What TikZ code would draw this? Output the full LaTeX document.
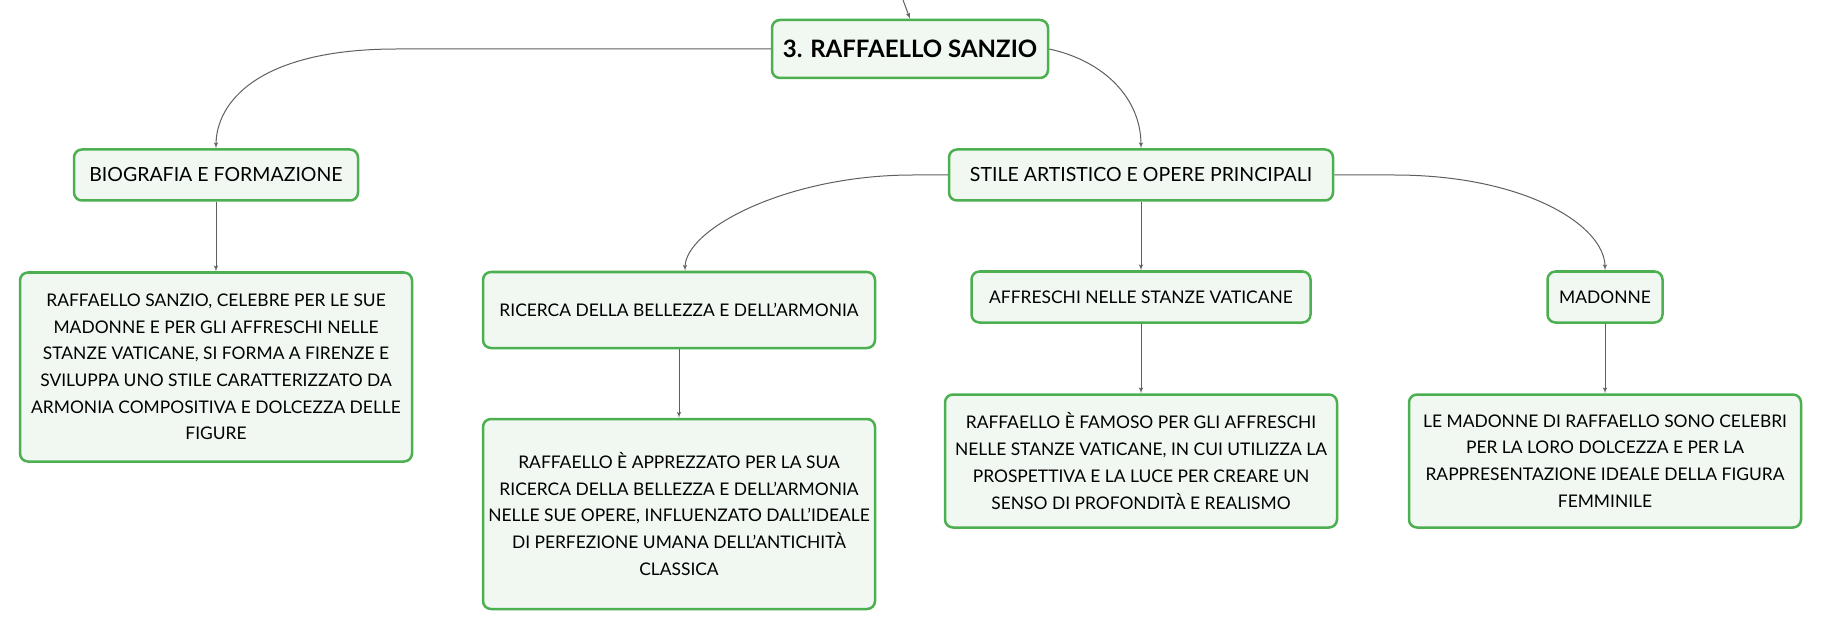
\documentclass[tikz,border=0pt]{standalone}
\usepackage{fontspec}
\setmainfont{Lato}
\usetikzlibrary{shapes,arrows}
\definecolor{leafgreen}{RGB}{76,175,80}
\definecolor{mint}{RGB}{241,248,242}
\definecolor{wire}{RGB}{95,95,95}
\tikzstyle{rootblock} = [rectangle, draw=leafgreen, fill=mint, line width=2.5pt,
    rounded corners=8pt, minimum width=276pt, minimum height=58pt,
    font=\fontsize{24}{28}\selectfont\bfseries]
\tikzstyle{block} = [rectangle, draw=leafgreen, fill=mint, line width=2.5pt,
    rounded corners=8pt, minimum height=51pt, font=\fontsize{17.4}{22}\selectfont]
\tikzstyle{mainblock} = [block, font=\fontsize{19.5}{23}\selectfont]
\tikzstyle{wideblock} = [rectangle, draw=leafgreen, fill=mint, line width=2.5pt,
    rounded corners=8pt, minimum width=392pt, align=center,
    font=\fontsize{17.4}{26.7}\selectfont]
\tikzstyle{line} = [draw=wire, line width=1pt, -latex']

\begin{document}
\begin{tikzpicture}[node distance=120pt, auto]
    \useasboundingbox (0,0) rectangle (1821pt,-631pt);
    % Place nodes
    \node [rootblock] (root) at (910pt,-49pt) {3. RAFFAELLO SANZIO};
    \node [mainblock, below of=root, node distance=126pt, xshift=231pt,
           minimum width=384pt] (stile) {STILE ARTISTICO E OPERE PRINCIPALI};
    \node [mainblock, left of=stile, node distance=925pt,
           minimum width=284pt] (bio) {BIOGRAFIA E FORMAZIONE};
    \node [wideblock, below of=bio, node distance=192pt,
           minimum height=189pt] (biotext) {RAFFAELLO SANZIO, CELEBRE PER LE SUE\\
                                         MADONNE E PER GLI AFFRESCHI NELLE\\
                                         STANZE VATICANE, SI FORMA A FIRENZE E\\
                                         SVILUPPA UNO STILE CARATTERIZZATO DA\\
                                         ARMONIA COMPOSITIVA E DOLCEZZA DELLE\\
                                         FIGURE};
    \node [block, below of=stile, node distance=122pt,
           minimum width=339pt] (affreschi) {AFFRESCHI NELLE STANZE VATICANE};
    \node [block, left of=affreschi, node distance=462pt, yshift=-13pt,
           minimum width=392pt, minimum height=76pt] (ricerca) {RICERCA DELLA BELLEZZA E DELL'ARMONIA};
    \node [block, right of=affreschi, node distance=464pt,
           minimum width=115pt] (madonne) {MADONNE};
    \node [wideblock, below of=ricerca, node distance=204pt,
           minimum height=190pt] (ricercatext) {RAFFAELLO È APPREZZATO PER LA SUA\\
                                         RICERCA DELLA BELLEZZA E DELL'ARMONIA\\
                                         NELLE SUE OPERE, INFLUENZATO DALL'IDEALE\\
                                         DI PERFEZIONE UMANA DELL'ANTICHITÀ\\
                                         CLASSICA};
    \node [wideblock, below of=affreschi, node distance=164pt,
           minimum height=133pt] (affreschitext) {RAFFAELLO È FAMOSO PER GLI AFFRESCHI\\
                                         NELLE STANZE VATICANE, IN CUI UTILIZZA LA\\
                                         PROSPETTIVA E LA LUCE PER CREARE UN\\
                                         SENSO DI PROFONDITÀ E REALISMO};
    \node [wideblock, below of=madonne, node distance=164pt,
           minimum height=133pt] (madonnetext) {LE MADONNE DI RAFFAELLO SONO CELEBRI\\
                                         PER LA LORO DOLCEZZA E PER LA\\
                                         RAPPRESENTAZIONE IDEALE DELLA FIGURA\\
                                         FEMMINILE};
    \coordinate (parent) at (903pt,0pt);
    % Draw edges
    \path [line] (parent) .. controls (906pt,-8pt) .. (root.north);
    \path [line] (root.west) -- ++(-374pt,0) .. controls +(-140pt,0) and +(0,45pt) .. (bio.north);
    \path [line] (root.east) .. controls +(55pt,-12pt) and +(0,50pt) .. (stile.north);
    \path [line] (stile.west) -- ++(-35pt,0) .. controls +(-125pt,0) and +(0,42pt) .. ([xshift=6pt]ricerca.north);
    \path [line] (stile.east) -- ++(60pt,0) .. controls +(130pt,0) and +(0,45pt) .. (madonne.north);
    \path [line] (bio) -- (biotext);
    \path [line] (stile) -- (affreschi);
    \path [line] (ricerca) -- (ricercatext);
    \path [line] (affreschi) -- (affreschitext);
    \path [line] (madonne) -- (madonnetext);
\end{tikzpicture}
\end{document}
